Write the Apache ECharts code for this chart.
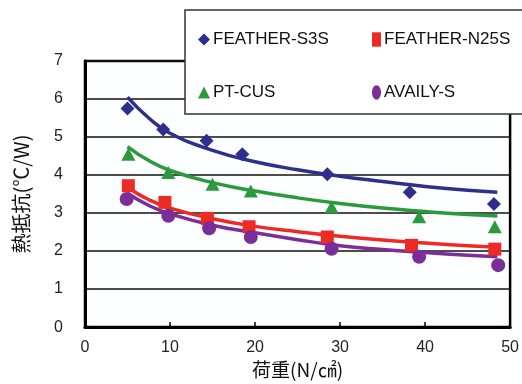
<!DOCTYPE html>
<html>
<head>
<meta charset="utf-8">
<script src="https://cdn.jsdelivr.net/npm/echarts@6/dist/echarts.min.js"></script>
<style>
  html, body { margin: 0; padding: 0; background: #fff; }
  #chart { width: 522px; height: 384px; }
</style>
</head>
<body>
<div id="chart"></div>
<script>
// measured points [load, resistance]
const s3sPoints = [[5, 5.75], [9.2, 5.2], [14.3, 4.9], [18.5, 4.55], [28.5, 4.02], [38.2, 3.55], [48.1, 3.24]]
const n25sPoints = [[5.1, 3.72], [9.4, 3.28], [14.4, 2.86], [19.3, 2.64], [28.5, 2.37], [38.4, 2.15], [48.2, 2.05]]
const cusPoints = [[5.1, 4.55], [9.8, 4.07], [15, 3.76], [19.5, 3.58], [29, 3.16], [39.3, 2.9], [48.2, 2.64]]
const availyPoints = [[4.9, 3.37], [9.8, 2.93], [14.6, 2.6], [19.5, 2.37], [29, 2.06], [39.3, 1.85], [48.6, 1.63]]

// trend curves
const curveX = [5, 7.5, 10, 15, 20, 25, 30, 35, 40, 45, 48.5]
const s3sCurve = [6.05, 5.5, 5.1, 4.65, 4.35, 4.14, 3.97, 3.83, 3.7, 3.6, 3.55]
const cusCurve = [4.75, 4.38, 4.12, 3.8, 3.58, 3.4, 3.25, 3.13, 3.04, 2.96, 2.92]
const n25sCurve = [3.68, 3.35, 3.13, 2.85, 2.65, 2.51, 2.39, 2.29, 2.21, 2.14, 2.1]
const availyCurve = [3.52, 3.2, 2.98, 2.68, 2.48, 2.3, 2.14, 2.04, 1.96, 1.89, 1.85]

const names = ['FEATHER-S3S', 'FEATHER-N25S', 'PT-CUS', 'AVAILY-S']
const colors = ['#2e2f8c', '#ee2a24', '#2a9a3c', '#7c2e98']
const symbols = ['diamond', 'rect', 'triangle', 'circle']

const font = '"Liberation Sans", Arial, sans-serif'
const cjk = '"Noto Sans CJK JP", sans-serif'

const zip = (xs, ys) => xs.map((x, i) => [x, ys[i]])

const chart = echarts.init(document.getElementById('chart'))

const pointSets = [s3sPoints, n25sPoints, cusPoints, availyPoints]
const curveSets = [s3sCurve, n25sCurve, cusCurve, availyCurve]

const series = []
names.forEach((name, i) => {
  series.push({
    name: name + ' fit',
    type: 'line',
    smooth: true,
    showSymbol: false,
    lineStyle: { width: 3.5, color: colors[i] },
    data: zip(curveX, curveSets[i]),
    z: 3,
  })
})
names.forEach((name, i) => {
  series.push({
    name,
    type: 'scatter',
    symbol: symbols[i],
    symbolSize: i === 1 ? [13, 13] : i === 2 ? [14, 13] : 14,
    itemStyle: { color: colors[i], opacity: 1 },
    data: pointSets[i],
    z: 4,
  })
})

// legend: one component per cell so columns line up
const legendPos = [
  { left: 198, top: 31 },
  { left: 372, top: 31 },
  { left: 198, top: 84 },
  { left: 372, top: 84 },
]
const legendIcons = [
  'diamond',
  'path://M0,0L10,0L10,16L0,16Z',
  'triangle',
  'path://M5,0C8,0 10,4 10,8C10,12 8,16 5,16C2,16 0,12 0,8C0,4 2,0 5,0Z',
]
const legend = names.map((name, i) => ({
  data: [{ name, icon: legendIcons[i], itemStyle: { opacity: 1 } }],
  left: legendPos[i].left,
  top: legendPos[i].top,
  itemWidth: i === 1 || i === 3 ? 9 : 12,
  itemHeight: i === 1 || i === 3 ? 16 : 12,
  itemGap: 4,
  padding: 0,
  selectedMode: false,
  z: 20,
  textStyle: { fontFamily: font, fontSize: 17, color: '#111', padding: [0, 0, 0, -2] },
}))

chart.setOption({
  animation: false,
  backgroundColor: '#fff',
  grid: {
    left: 85, right: 10, top: 61, bottom: 55,
    show: true,
    borderColor: '#000',
    borderWidth: 2.5,
    backgroundColor: '#fdfeff',
  },
  legend,
  graphic: [{
    type: 'rect',
    z: 10,
    shape: { x: 185, y: 10, width: 345, height: 104 },
    style: { fill: '#fff', stroke: '#333', lineWidth: 1.5 },
  }],
  xAxis: {
    type: 'value',
    min: 0, max: 50, interval: 10,
    name: '荷重(N/㎠)',
    nameLocation: 'middle',
    nameGap: 32,
    nameTextStyle: { fontFamily: cjk, fontSize: 19, color: '#111' },
    axisLine: { lineStyle: { color: '#000', width: 3 } },
    axisTick: { inside: true, length: 5, lineStyle: { color: '#000', width: 1.5 } },
    axisLabel: { fontFamily: font, fontSize: 16, color: '#222', margin: 12 },
    splitLine: { show: false },
  },
  yAxis: {
    type: 'value',
    min: 0, max: 7, interval: 1,
    name: '熱抵抗(℃/W)',
    nameLocation: 'middle',
    nameGap: 54,
    nameRotate: 90,
    nameTextStyle: { fontFamily: cjk, fontSize: 20, color: '#111' },
    axisLine: { show: true, lineStyle: { color: '#000', width: 3 } },
    axisTick: { show: false },
    axisLabel: { fontFamily: font, fontSize: 16, color: '#222', margin: 22 },
    splitLine: { lineStyle: { color: '#111', width: 1.5 } },
  },
  series,
})
</script>
</body>
</html>
